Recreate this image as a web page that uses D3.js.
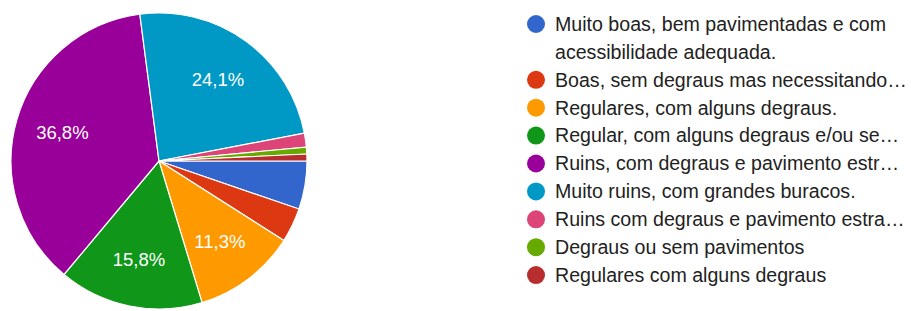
<!DOCTYPE html>
<html><head><meta charset="utf-8">
<script src="https://cdn.jsdelivr.net/npm/d3@7"></script>
<style>body{margin:0;background:#fff;}svg{display:block;font-family:"Liberation Sans",Arial,sans-serif;}</style>
</head><body>
<script>
const categories = [
  "Muito boas, bem pavimentadas e com acessibilidade adequada.",
  "Boas, sem degraus mas necessitando…",
  "Regulares, com alguns degraus.",
  "Regular, com alguns degraus e/ou se…",
  "Ruins, com degraus e pavimento estr…",
  "Muito ruins, com grandes buracos.",
  "Ruins com degraus e pavimento estra…",
  "Degraus ou sem pavimentos",
  "Regulares com alguns degraus"
];
const legendLines = [
  ["Muito boas, bem pavimentadas e com", "acessibilidade adequada."],
  ["Boas, sem degraus mas necessitando…"],
  ["Regulares, com alguns degraus."],
  ["Regular, com alguns degraus e/ou se…"],
  ["Ruins, com degraus e pavimento estr…"],
  ["Muito ruins, com grandes buracos."],
  ["Ruins com degraus e pavimento estra…"],
  ["Degraus ou sem pavimentos"],
  ["Regulares com alguns degraus"]
];
const values = [7, 5, 15, 21, 49, 32, 2, 1, 1];
const colors = ["#3366cc","#dc3912","#ff9900","#109618","#990099","#0099c6","#dd4477","#66aa00","#b82e2e"];

const W = 911, H = 311;
const cx = 159, cy = 161, R = 148;
const svg = d3.select("body").append("svg").attr("width", W).attr("height", H);

const total = d3.sum(values);
const pie = d3.pie().sort(null).value(d => d).startAngle(Math.PI/2).endAngle(Math.PI/2 + 2*Math.PI);
const arcs = pie(values);
const arc = d3.arc().innerRadius(0).outerRadius(R);
const labelArc = d3.arc().innerRadius(R*0.68).outerRadius(R*0.68);

const g = svg.append("g").attr("transform", `translate(${cx},${cy})`);
g.selectAll("path").data(arcs).join("path")
  .attr("d", arc).attr("fill", (d,i) => colors[i])
  .attr("stroke", "#fff").attr("stroke-width", 1.2);

const fmt = v => (Math.round(v/total*1000)/10).toFixed(1).replace(".", ",") + "%";
g.selectAll("text").data(arcs.filter(d => d.data/total >= 0.08)).join("text")
  .attr("transform", d => `translate(${labelArc.centroid(d)})`)
  .attr("text-anchor", "middle").attr("dy", "0.35em")
  .attr("fill", "#fff").attr("font-size", 18.5)
  .text(d => fmt(d.data));

// legend
const lx = 536, ly0 = 24, step = 27.9;
const lg = svg.append("g");
let row = 0;
legendLines.forEach((lines, i) => {
  const y = ly0 + row * step;
  lg.append("circle").attr("cx", lx).attr("cy", y).attr("r", 9).attr("fill", colors[i]);
  lines.forEach((t, k) => {
    lg.append("text").attr("x", 555).attr("y", y + k*step).attr("dy", "0.35em")
      .attr("font-size", 19.6).attr("fill", "#222").text(t);
  });
  row += lines.length;
});
</script>
</body></html>
